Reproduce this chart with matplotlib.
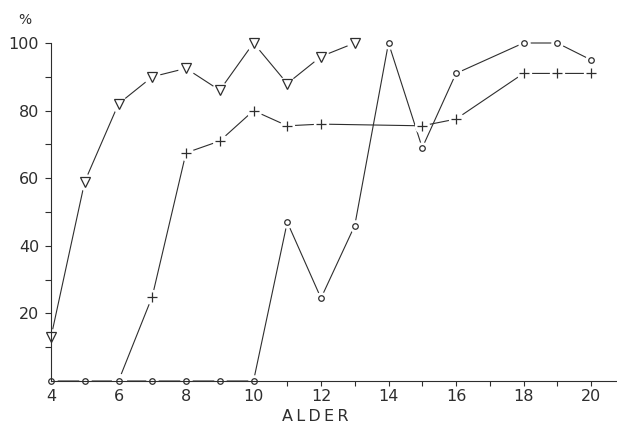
import numpy as np
import matplotlib.pyplot as plt

# ages and percentages
age_tri = [4, 5, 6, 7, 8, 9, 10, 11, 12, 13]
pct_tri = [13, 59, 82, 90, 92.5, 86, 100, 88, 96, 100]

age_plus = [6, 7, 8, 9, 10, 11, 12, 15, 16, 18, 19, 20]
pct_plus = [0, 25, 67.5, 71, 80, 75.5, 76, 75.5, 77.5, 91, 91, 91]

age_circ = [4, 5, 6, 7, 8, 9, 10, 11, 12, 13, 14, 15, 16, 18, 19, 20]
pct_circ = [0, 0, 0, 0, 0, 0, 0, 47, 24.5, 46, 100, 69, 91, 100, 100, 95]

x_ticks = [4, 6, 8, 10, 12, 14, 16, 18, 20]
y_ticks = [20, 40, 60, 80, 100]

ink = '#2e2e2e'
plt.rcParams['font.family'] = 'DejaVu Sans'

fig = plt.figure(figsize=(6.17, 4.23), dpi=100)
ax = fig.add_axes([51 / 617, 1 - 381 / 423, 566 / 617, 338 / 423])


def draw(xs, ys, marker, ms, gap, first_marker=True):
    # line first, then a white blob to break the line near each point, then the marker
    ax.plot(xs, ys, '-', color=ink, lw=0.8, clip_on=False, zorder=2)
    ax.plot(xs, ys, linestyle='none', marker='o', ms=gap, mfc='white', mec='white',
            clip_on=False, zorder=3)
    mx, my = (xs, ys) if first_marker else (xs[1:], ys[1:])
    ax.plot(mx, my, linestyle='none', marker=marker, ms=ms, mfc='none', mec=ink,
            mew=0.9, clip_on=False, zorder=4)


draw(age_tri, pct_tri, 'v', 6.5, 11)
draw(age_plus, pct_plus, '+', 7, 10, first_marker=False)
draw(age_circ, pct_circ, 'o', 4, 8)

ax.set_xlim(4, 4 + 566 / 33.75)
ax.set_ylim(0, 100)
ax.set_xticks(np.arange(4, 21, 1), minor=True)
ax.set_xticks(x_ticks)
ax.set_yticks(np.arange(10, 100, 10), minor=True)
ax.set_yticks(y_ticks)
ax.tick_params(which='both', direction='out', color=ink, width=0.8, labelcolor=ink,
               labelsize=11.5)
ax.tick_params(axis='x', which='both', length=3.5, pad=2)
ax.tick_params(axis='y', which='both', length=4.5, pad=4)

for s in ['top', 'right']:
    ax.spines[s].set_visible(False)
for s in ['left', 'bottom']:
    ax.spines[s].set_color(ink)
    ax.spines[s].set_linewidth(0.8)
    ax.spines[s].set_zorder(3.5)

fig.text(25 / 617, 1 - 20 / 423, '%', ha='center', va='center', fontsize=10, color=ink)
fig.text(315 / 617, 1 - 416 / 423, '\u2009'.join('ALDER'), ha='center', va='center',
         fontsize=11.5, color=ink)

fig.savefig('out.png', dpi=100, facecolor='white')
